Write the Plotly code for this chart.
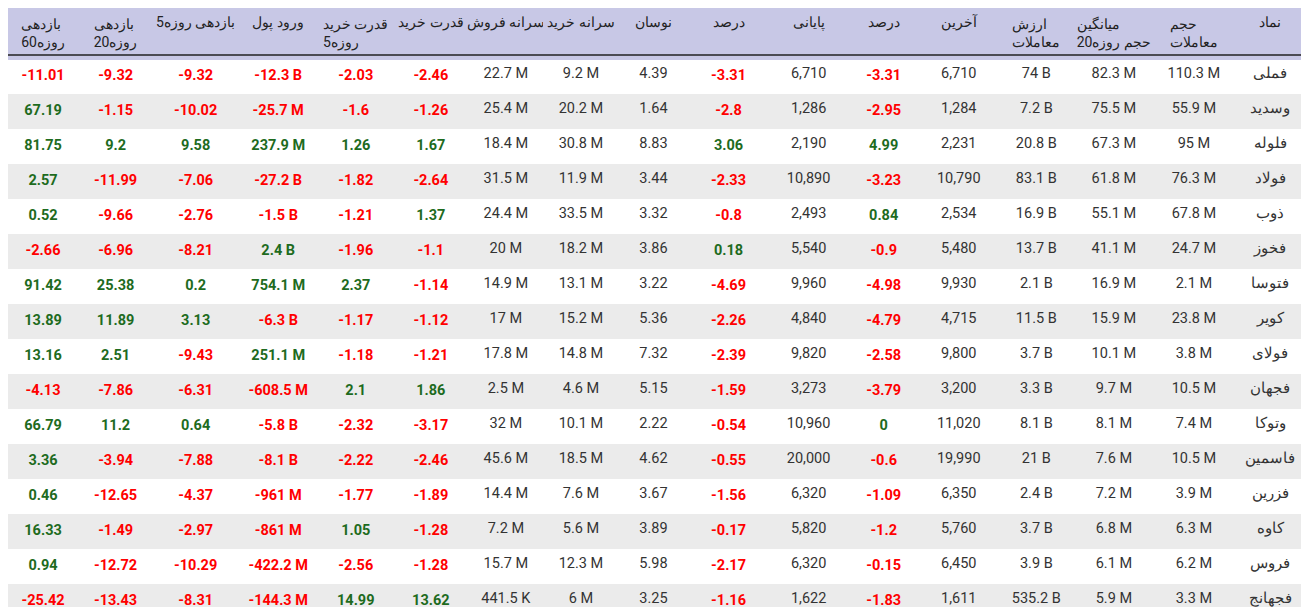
import plotly.graph_objects as go

symbols = ["فملی","وسدید","فلوله","فولاد","ذوب","فخوز","فتوسا","کویر","فولای","فجهان","وتوکا","فاسمین","فزرین","کاوه","فروس","فجهانج"]
volume = ["110.3 M","55.9 M","95 M","76.3 M","67.8 M","24.7 M","2.1 M","23.8 M","3.8 M","10.5 M","7.4 M","10.5 M","3.9 M","6.3 M","6.2 M","3.3 M"]
avg_vol20 = ["82.3 M","75.5 M","67.3 M","61.8 M","55.1 M","41.1 M","16.9 M","15.9 M","10.1 M","9.7 M","8.1 M","7.6 M","7.2 M","6.8 M","6.1 M","5.9 M"]
value = ["74 B","7.2 B","20.8 B","83.1 B","16.9 B","13.7 B","2.1 B","11.5 B","3.7 B","3.3 B","8.1 B","21 B","2.4 B","3.7 B","3.9 B","535.2 B"]
last = ["6,710","1,284","2,231","10,790","2,534","5,480","9,930","4,715","9,800","3,200","11,020","19,990","6,350","5,760","6,450","1,611"]
last_pct = ["-3.31","-2.95","4.99","-3.23","0.84","-0.9","-4.98","-4.79","-2.58","-3.79","0","-0.6","-1.09","-1.2","-0.15","-1.83"]
close = ["6,710","1,286","2,190","10,890","2,493","5,540","9,960","4,840","9,820","3,273","10,960","20,000","6,320","5,820","6,320","1,622"]
close_pct = ["-3.31","-2.8","3.06","-2.33","-0.8","0.18","-4.69","-2.26","-2.39","-1.59","-0.54","-0.55","-1.56","-0.17","-2.17","-1.16"]
volatility = ["4.39","1.64","8.83","3.44","3.32","3.86","3.22","5.36","7.32","5.15","2.22","4.62","3.67","3.89","5.98","3.25"]
per_buy = ["9.2 M","20.2 M","30.8 M","11.9 M","33.5 M","18.2 M","13.1 M","15.2 M","14.8 M","4.6 M","10.1 M","18.5 M","7.6 M","5.6 M","12.3 M","6 M"]
per_sell = ["22.7 M","25.4 M","18.4 M","31.5 M","24.4 M","20 M","14.9 M","17 M","17.8 M","2.5 M","32 M","45.6 M","14.4 M","7.2 M","15.7 M","441.5 K"]
buy_power = ["-2.46","-1.26","1.67","-2.64","1.37","-1.1","-1.14","-1.12","-1.21","1.86","-3.17","-2.46","-1.89","-1.28","-1.28","13.62"]
buy_power5 = ["-2.03","-1.6","1.26","-1.82","-1.21","-1.96","2.37","-1.17","-1.18","2.1","-2.32","-2.22","-1.77","1.05","-2.56","14.99"]
money_in = ["-12.3 B","-25.7 M","237.9 M","-27.2 B","-1.5 B","2.4 B","754.1 M","-6.3 B","251.1 M","-608.5 M","-5.8 B","-8.1 B","-961 M","-861 M","-422.2 M","-144.3 M"]
ret5 = ["-9.32","-10.02","9.58","-7.06","-2.76","-8.21","0.2","3.13","-9.43","-6.31","0.64","-7.88","-4.37","-2.97","-10.29","-8.31"]
ret20 = ["-9.32","-1.15","9.2","-11.99","-9.66","-6.96","25.38","11.89","2.51","-7.86","11.2","-3.94","-12.65","-1.49","-12.72","-13.43"]
ret60 = ["-11.01","67.19","81.75","2.57","0.52","-2.66","91.42","13.89","13.16","-4.13","66.79","3.36","0.46","16.33","0.94","-25.42"]

NB = "\u00a0"
headers = ["بازدهی<br>روزه60", "بازدهی<br>روزه20", f"بازدهی{NB}روزه5", f"ورود{NB}پول",
           f"قدرت{NB}خرید<br>روزه5", f"قدرت{NB}خرید", f"سرانه{NB}فروش", f"سرانه{NB}خرید",
           "نوسان", "درصد", "پایانی", "درصد", "آخرین", "ارزش<br>معاملات",
           f"میانگین<br>حجم{NB}روزه20", "حجم<br>معاملات", "نماد"]
cols = [ret60, ret20, ret5, money_in, buy_power5, buy_power, per_sell, per_buy, volatility, close_pct,
        close, last_pct, last, value, avg_vol20, volume, symbols]
signed = {0,1,2,3,4,5,9,11}

RED, GREEN, DARK = "#ff0000", "#1e6b1e", "#333333"
values, colors = [], []
for i, c in enumerate(cols):
    if i in signed:
        values.append([f"<b>{v}</b>" for v in c])
        colors.append([RED if v.startswith("-") else GREEN for v in c])
    else:
        values.append(c)
        colors.append([DARK] * len(c))

n = len(symbols)
fills = [["#ffffff" if r % 2 == 0 else "#ebebeb" for r in range(n)]] * len(cols)

fig = go.Figure(go.Table(
    columnwidth=[70,75,85,80,75,75,75,75,70,80,80,70,80,75,80,80,73],
    header=dict(values=headers,
                fill_color="#c8c8e6", line_color="#c8c8e6", height=47,
                font=dict(family="Roboto", size=14, color="#222222"), align="center"),
    cells=dict(values=values, fill_color=fills, line_color=fills, height=35,
               font=dict(family="Roboto", size=14.5, color=colors), align="center"),
))
fig.update_layout(width=1309, height=607, margin=dict(l=0, r=10, t=0, b=0),
                  paper_bgcolor="white",
                  shapes=[dict(type="line", xref="paper", yref="paper", x0=0, x1=1,
                               y0=1 - 47/607, y1=1 - 47/607, line=dict(color="#222", width=1.5))])
fig.write_html("out.html")
